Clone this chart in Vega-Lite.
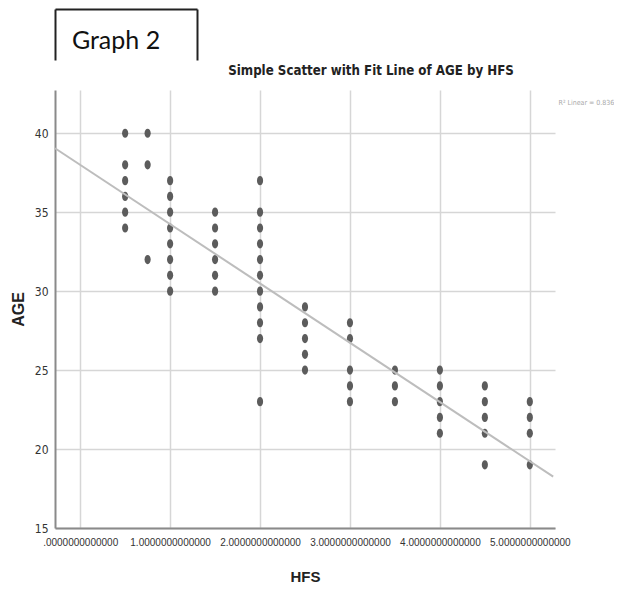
{
  "$schema": "https://vega.github.io/schema/vega-lite/v6.json",
  "padding": {"left": 10, "top": 9, "right": 0, "bottom": 0},
  "background": "white",
  "config": {"view": {"stroke": null}, "concat": {"spacing": 3}},
  "vconcat": [
    {
      "width": 142,
      "height": 51,
      "data": {"values": [{"label": "Graph 2"}]},
      "layer": [
        {
          "mark": {"type": "text", "font": "Lato", "fontSize": 25, "color": "#111", "dx": -10, "dy": 6},
          "encoding": {
            "text": {"field": "label"},
            "x": {"field": "label", "type": "nominal", "axis": {"orient": "top", "domain": true, "domainColor": "#222", "domainWidth": 2, "ticks": false, "labels": false, "grid": false, "title": null}},
            "y": {"field": "label", "type": "nominal", "axis": {"orient": "left", "domain": true, "domainColor": "#222", "domainWidth": 2, "ticks": false, "labels": false, "grid": false, "title": null}}
          }
        },
        {
          "mark": {"type": "text", "opacity": 0},
          "encoding": {
            "text": {"field": "label"},
            "x": {"field": "label", "type": "nominal"},
            "y": {"field": "label", "type": "nominal", "axis": {"orient": "right", "domain": true, "domainColor": "#222", "domainWidth": 2, "ticks": false, "labels": false, "grid": false, "title": null}}
          }
        }
      ],
      "resolve": {"axis": {"y": "independent"}}
    },
    {
      "width": 500,
      "height": 438,
      "title": {"text": "Simple Scatter with Fit Line of AGE by HFS", "font": "DejaVu Sans Condensed, Liberation Sans", "fontSize": 13.2, "fontWeight": "bold", "color": "#222", "anchor": "middle", "frame": "group", "dx": 66, "offset": 12},
      "layer": [
        {
          "data": {"values": [
            {"HFS": 0.5, "AGE": 40}, {"HFS": 0.5, "AGE": 38}, {"HFS": 0.5, "AGE": 37}, {"HFS": 0.5, "AGE": 36}, {"HFS": 0.5, "AGE": 35}, {"HFS": 0.5, "AGE": 34},
            {"HFS": 0.75, "AGE": 40}, {"HFS": 0.75, "AGE": 38}, {"HFS": 0.75, "AGE": 32},
            {"HFS": 1, "AGE": 37}, {"HFS": 1, "AGE": 36}, {"HFS": 1, "AGE": 35}, {"HFS": 1, "AGE": 34}, {"HFS": 1, "AGE": 33}, {"HFS": 1, "AGE": 32}, {"HFS": 1, "AGE": 31}, {"HFS": 1, "AGE": 30},
            {"HFS": 1.5, "AGE": 35}, {"HFS": 1.5, "AGE": 34}, {"HFS": 1.5, "AGE": 33}, {"HFS": 1.5, "AGE": 32}, {"HFS": 1.5, "AGE": 31}, {"HFS": 1.5, "AGE": 30},
            {"HFS": 2, "AGE": 37}, {"HFS": 2, "AGE": 35}, {"HFS": 2, "AGE": 34}, {"HFS": 2, "AGE": 33}, {"HFS": 2, "AGE": 32}, {"HFS": 2, "AGE": 31}, {"HFS": 2, "AGE": 30}, {"HFS": 2, "AGE": 29}, {"HFS": 2, "AGE": 28}, {"HFS": 2, "AGE": 27}, {"HFS": 2, "AGE": 23},
            {"HFS": 2.5, "AGE": 29}, {"HFS": 2.5, "AGE": 28}, {"HFS": 2.5, "AGE": 27}, {"HFS": 2.5, "AGE": 26}, {"HFS": 2.5, "AGE": 25},
            {"HFS": 3, "AGE": 28}, {"HFS": 3, "AGE": 27}, {"HFS": 3, "AGE": 25}, {"HFS": 3, "AGE": 24}, {"HFS": 3, "AGE": 23},
            {"HFS": 3.5, "AGE": 25}, {"HFS": 3.5, "AGE": 24}, {"HFS": 3.5, "AGE": 23},
            {"HFS": 4, "AGE": 25}, {"HFS": 4, "AGE": 24}, {"HFS": 4, "AGE": 23}, {"HFS": 4, "AGE": 22}, {"HFS": 4, "AGE": 21},
            {"HFS": 4.5, "AGE": 24}, {"HFS": 4.5, "AGE": 23}, {"HFS": 4.5, "AGE": 22}, {"HFS": 4.5, "AGE": 21}, {"HFS": 4.5, "AGE": 19},
            {"HFS": 5, "AGE": 23}, {"HFS": 5, "AGE": 22}, {"HFS": 5, "AGE": 21}, {"HFS": 5, "AGE": 19}
          ]},
          "mark": {"type": "point", "shape": "M-0.67,0A0.67,1 0 1,0 0.67,0A0.67,1 0 1,0 -0.67,0Z", "filled": true, "size": 85, "color": "#5c5c5c", "opacity": 1},
          "encoding": {
            "x": {"field": "HFS", "type": "quantitative", "scale": {"domain": [-0.28, 5.28], "nice": false, "zero": false},
              "axis": {"values": [0, 1, 2, 3, 4, 5], "labelExpr": "datum.value == 0 ? '.0000000000000' : format(datum.value, '.13f')", "ticks": false, "labelPadding": 9, "labelFont": "Liberation Sans", "labelFontSize": 10, "labelColor": "#333", "labelOverlap": false, "labelFlush": false, "domainColor": "#8a8a8a", "domainWidth": 2, "gridColor": "#d6d6d6", "gridWidth": 1.5, "title": "HFS", "titleFont": "Liberation Sans", "titleFontSize": 15, "titleFontWeight": "bold", "titleColor": "#222", "titlePadding": 22}},
            "y": {"field": "AGE", "type": "quantitative", "scale": {"domain": [15, 42.74], "nice": false, "zero": false},
              "axis": {"orient": "left", "values": [15, 20, 25, 30, 35, 40], "ticks": false, "labelPadding": 7, "labelFont": "DejaVu Sans Condensed, Liberation Sans", "labelFontSize": 12, "labelColor": "#333", "domainColor": "#8a8a8a", "domainWidth": 2, "gridColor": "#d6d6d6", "gridWidth": 1.5, "title": "AGE", "titleFont": "Liberation Sans", "titleFontSize": 16, "titleFontWeight": "bold", "titleColor": "#222", "titlePadding": 8}}
          }
        },
        {
          "data": {"values": [{"HFS": -0.28, "AGE": 39.05}, {"HFS": 5.26, "AGE": 18.25}]},
          "mark": {"type": "line", "color": "#bdbdbd", "strokeWidth": 2},
          "encoding": {
            "x": {"field": "HFS", "type": "quantitative"},
            "y": {"field": "AGE", "type": "quantitative", "axis": {"orient": "right", "domain": false, "ticks": false, "labels": false, "grid": false, "title": "R² Linear = 0.836", "titleAngle": 0, "titleAlign": "left", "titleBaseline": "middle", "titleX": 3, "titleY": 12, "titleFont": "DejaVu Sans Condensed, Liberation Sans", "titleFontSize": 7, "titleFontWeight": "normal", "titleColor": "#aaa"}}
          }
        }
      ],
      "resolve": {"axis": {"y": "independent"}}
    }
  ]
}
